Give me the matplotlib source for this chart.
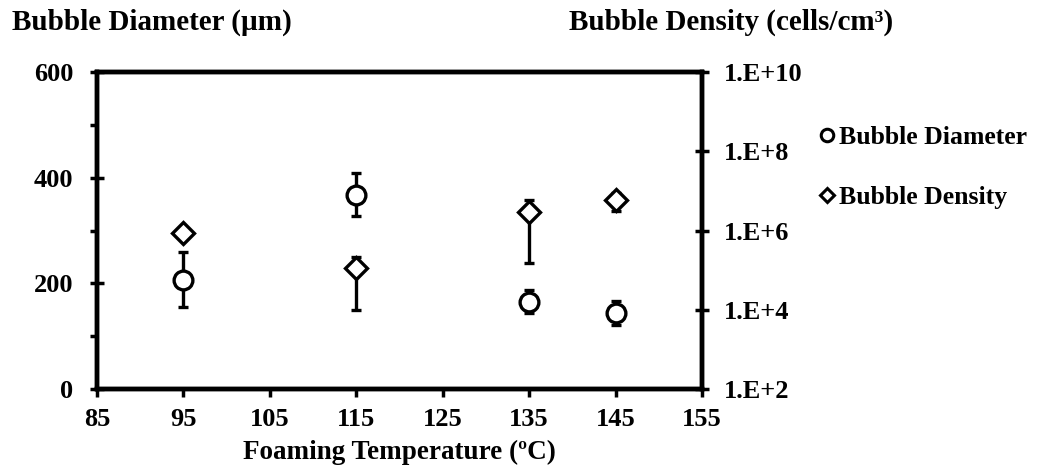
import numpy as np
import matplotlib
matplotlib.use('Agg')
import matplotlib.pyplot as plt
from matplotlib.lines import Line2D
from matplotlib.ticker import FixedLocator, FuncFormatter, NullLocator

plt.rcParams['font.family'] = ['Liberation Serif', 'DejaVu Serif']
plt.rcParams['font.weight'] = 'bold'
plt.rcParams['font.size'] = 19

temperature = [95, 115, 135, 145]
diameter = [207, 368, 165, 144]
diameter_err = [52, 41, 22, 22]
density = [8.7e5, 1.15e5, 2.95e6, 5.9e6]
density_err = [1.5e5, 1.05e5, 2.8e6, 2.8e6]

fig = plt.figure(figsize=(10.4, 4.74), dpi=100)
ax = fig.add_axes([0.0933, 0.1793, 0.5817, 0.6687])
ax2 = ax.twinx()

ax.errorbar(temperature, diameter, yerr=diameter_err, fmt='o', ms=13.5, mfc='white', mec='black',
            mew=2.4, ecolor='black', elinewidth=2.4, capsize=3.5, capthick=2.4, zorder=3)
ax2.errorbar(temperature, density, yerr=density_err, fmt='D', ms=11.5, mfc='white', mec='black',
             mew=2.4, ecolor='black', elinewidth=2.4, capsize=3.5, capthick=2.4, zorder=3)

ax.set_xlim(85, 155)
ax.set_ylim(0, 600)
ax.set_xticks(np.arange(85, 156, 10))
ax.set_yticks([0, 200, 400, 600])
ax.yaxis.set_minor_locator(FixedLocator([100, 300, 500]))
ax.xaxis.set_minor_locator(NullLocator())

ax2.set_yscale('log')
ax2.set_ylim(1e2, 1e10)
ax2.yaxis.set_major_locator(FixedLocator([1e2, 1e4, 1e6, 1e8, 1e10]))
ax2.yaxis.set_minor_locator(NullLocator())
ax2.yaxis.set_major_formatter(FuncFormatter(lambda v, p: '1.E+%d' % round(np.log10(v))))

for a in (ax, ax2):
    for s in a.spines.values():
        s.set_linewidth(3.2)

ax.tick_params(axis='x', direction='out', length=6, width=2.5, pad=8, labelsize=19)
ax.tick_params(axis='y', which='major', direction='inout', length=10, width=2.5, pad=12, labelsize=19)
ax.tick_params(axis='y', which='minor', direction='out', length=5, width=2.5)
ax2.tick_params(axis='y', which='major', direction='inout', length=10, width=2.5, pad=11, labelsize=19)

ax.set_xlabel('Foaming Temperature (ºC)', fontsize=19.5, fontweight='bold', labelpad=6)

fig.text(0.012, 0.952, 'Bubble Diameter (µm)', fontsize=21, fontweight='bold', va='center')
fig.text(0.547, 0.952, 'Bubble Density (cells/cm³)', fontsize=21, fontweight='bold', va='center')

handles = [Line2D([], [], ls='none', marker='o', ms=9, mfc='white', mec='black', mew=2.2),
           Line2D([], [], ls='none', marker='D', ms=7.5, mfc='white', mec='black', mew=2.2)]
fig.legend(handles, ['Bubble Diameter', 'Bubble Density'], loc='upper left',
           bbox_to_anchor=(0.7865, 0.735), frameon=False, handlelength=0.7,
           handletextpad=0.1, labelspacing=1.45, borderaxespad=0, borderpad=0, fontsize=18.5)

fig.savefig('out.png', dpi=100)
